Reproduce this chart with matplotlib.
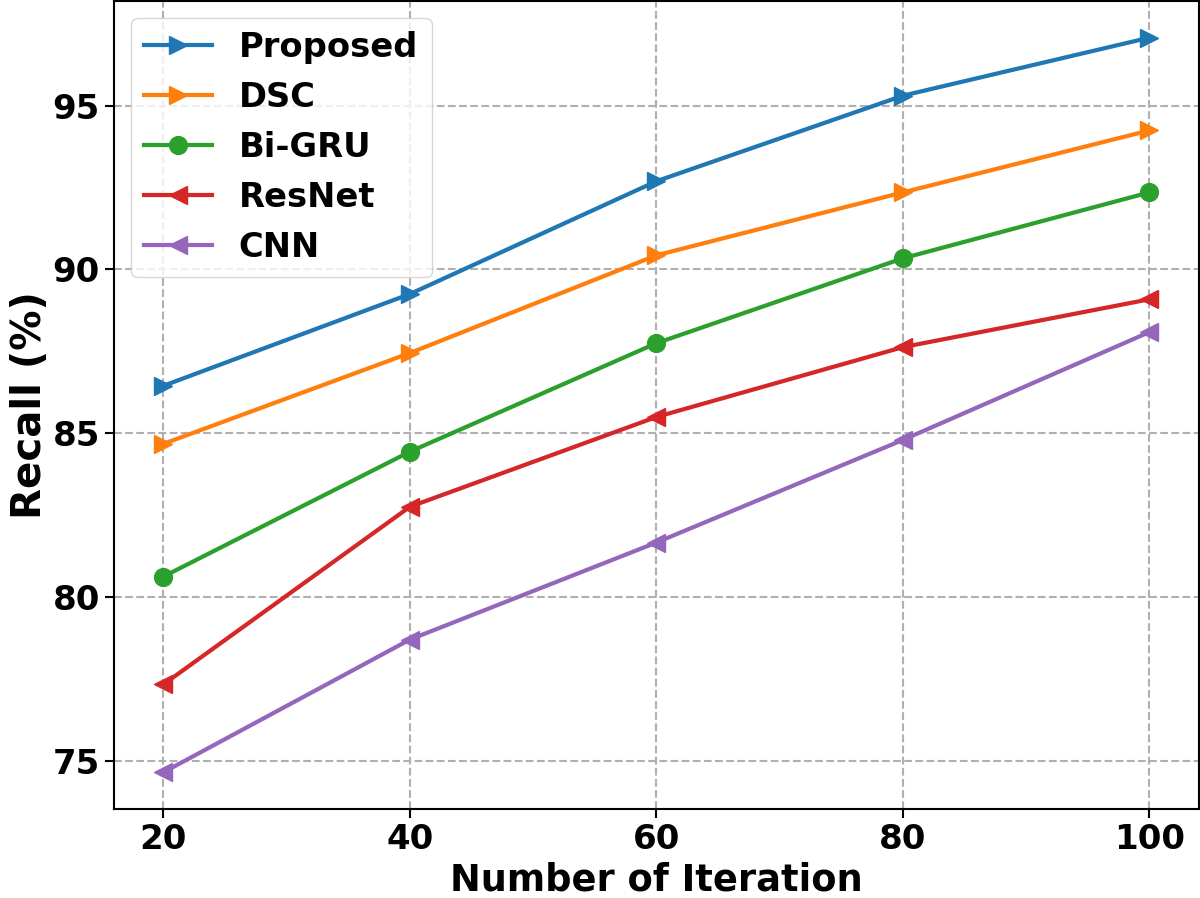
import numpy as np
import matplotlib
matplotlib.use("Agg")
import matplotlib.pyplot as plt

# -------------------------------
# Data
# -------------------------------

iterations = [20, 40, 60, 80, 100]

proposed = [86.45, 89.25, 92.69, 95.30, 97.07]
dsc = [84.68, 87.45, 90.43, 92.35, 94.24]
bi_gru = [80.63, 84.44, 87.75, 90.34, 92.35]
resnet = [77.34, 82.76, 85.50, 87.63, 89.09]
cnn = [74.66, 78.71, 81.67, 84.80, 88.09]

labels = ["Proposed", "DSC", "Bi-GRU", "ResNet", "CNN"]
markers = [">", ">", "o", "<", "<"]

# scale factor so the figure looks like a small default plot blown up
s = 1.89

plt.rcParams["font.weight"] = "bold"
plt.rcParams["axes.labelweight"] = "bold"

fig = plt.figure(figsize=(12, 8.98), dpi=100)
ax = fig.add_axes([0.095, 0.099, 0.904, 0.9])

series = [proposed, dsc, bi_gru, resnet, cnn]
for vals, lab, m in zip(series, labels, markers):
    ax.plot(iterations, vals, marker=m, label=lab,
            linewidth=1.6 * s, markersize=6.8 * s)

ax.set_xticks(iterations)
ax.set_xlabel("Number of Iteration", fontsize=26.5, fontweight="bold", labelpad=4)
ax.set_ylabel("Recall (%)", fontsize=29, fontweight="bold", labelpad=2)

ax.tick_params(labelsize=24.5, width=0.8 * s, length=3.5 * s)
for lbl in ax.get_xticklabels() + ax.get_yticklabels():
    lbl.set_fontweight("bold")

for sp in ax.spines.values():
    sp.set_linewidth(0.8 * s)

ax.grid(True, linestyle="--", color="#b0b0b0", linewidth=0.8 * s)

leg = ax.legend(loc="upper left", prop={"weight": "bold", "size": 24.3})

fig.savefig("out.png", dpi=100)
